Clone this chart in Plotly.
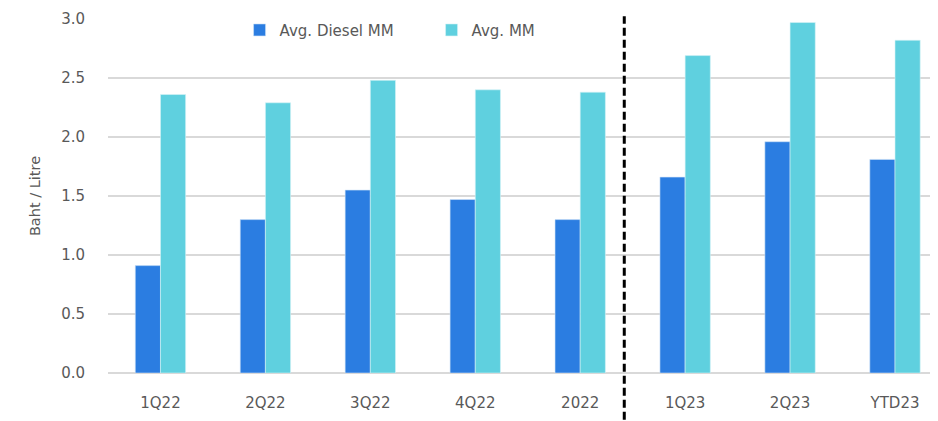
import plotly.graph_objects as go

categories = ["1Q22", "2Q22", "3Q22", "4Q22", "2022", "1Q23", "2Q23", "YTD23"]
diesel_mm = [0.91, 1.30, 1.55, 1.47, 1.30, 1.66, 1.96, 1.81]
avg_mm = [2.36, 2.29, 2.48, 2.40, 2.38, 2.69, 2.97, 2.82]
y_ticks = [0.0, 0.5, 1.0, 1.5, 2.0, 2.5, 3.0]
divider_pos = 4.42

FONT = "'DejaVu Sans', sans-serif"
GRAY = "#595959"

fig = go.Figure()
fig.add_trace(go.Bar(x=list(range(len(categories))), y=diesel_mm, name="Avg. Diesel MM",
                     marker=dict(color="#2B7DE1", line=dict(color="#cfe3f7", width=0.6))))
fig.add_trace(go.Bar(x=list(range(len(categories))), y=avg_mm, name="Avg. MM",
                     marker=dict(color="#5FD0DF", line=dict(color="#d7f3f7", width=0.6))))

fig.add_shape(type="line", xref="x", yref="paper", x0=divider_pos, x1=divider_pos,
              y0=-0.2, y1=1.008, line=dict(color="black", width=3, dash="8px,4px"))

fig.update_layout(
    width=938, height=421,
    margin=dict(l=100, r=0, t=11, b=56),
    paper_bgcolor="white", plot_bgcolor="white",
    barmode="group", bargap=0.52, bargroupgap=0,
    font=dict(family=FONT, size=15, color=GRAY),
    showlegend=True,
    legend=dict(orientation="h", x=0.157, y=1.015, xanchor="left", yanchor="top",
                entrywidth=147, itemwidth=30, font=dict(size=15, color=GRAY),
                bgcolor="rgba(0,0,0,0)"),
    xaxis=dict(tickmode="array", tickvals=list(range(len(categories))), ticktext=categories,
               range=[-0.5, 7.486], showgrid=False, zeroline=False, showline=False,
               ticks="", ticklabelstandoff=19, tickfont=dict(size=15, color=GRAY)),
    yaxis=dict(range=[0, 3.0], tickvals=y_ticks, ticktext=[f"{v:.1f}" for v in y_ticks],
               showgrid=True, gridcolor="#d9d9d9", gridwidth=1.5,
               zeroline=True, zerolinecolor="#d9d9d9", zerolinewidth=1.5,
               ticks="", ticklabelstandoff=22, tickfont=dict(size=15, color=GRAY),
               title=dict(text="Baht / Litre", font=dict(size=14.5, color=GRAY), standoff=17)),
)

fig.write_html("out.html")
